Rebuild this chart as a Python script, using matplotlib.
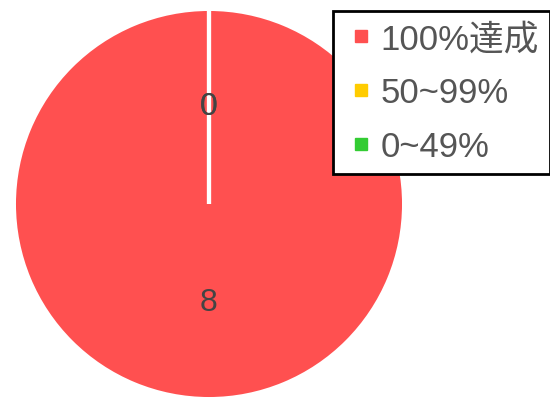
import matplotlib
matplotlib.use("Agg")
import matplotlib.pyplot as plt
from matplotlib.lines import Line2D

plt.rcParams['font.family'] = ['Liberation Sans', 'Noto Sans CJK JP', 'DejaVu Sans']

categories = ["100%達成", "50~99%", "0~49%"]
values = [8, 0, 0]
colors = ["#ff5050", "#ffcc00", "#33cc33"]

fig = plt.figure(figsize=(5.5, 4.06), dpi=100)
ax = fig.add_axes([10/550, 2/406, 398/550, 398/406])

wedges, texts = ax.pie(values, labels=[str(v) for v in values], colors=colors,
                       startangle=90, counterclock=False, labeldistance=0.5,
                       wedgeprops=dict(edgecolor="white", linewidth=3),
                       textprops=dict(fontsize=23, color="#444444"))
for t in texts:
    t.set_ha("center")
    t.set_va("center")
ax.set_xlim(-1.02, 1.02)
ax.set_ylim(-1.02, 1.02)
ax.set_aspect("equal")

handles = [Line2D([], [], marker="s", linestyle="none", markersize=9,
                  markerfacecolor=c, markeredgecolor=c) for c in colors]
leg = fig.legend(handles, categories, loc="upper left",
                 bbox_to_anchor=(333/550, 1 - 12/406), fontsize=25,
                 frameon=True, fancybox=False, edgecolor="black", framealpha=1,
                 labelspacing=0.6, handlelength=1.0, handletextpad=0.05,
                 borderpad=0.32, borderaxespad=0)
leg.get_frame().set_linewidth(2)
for t in leg.get_texts():
    t.set_color("#555555")

fig.savefig("out.png", dpi=100)
